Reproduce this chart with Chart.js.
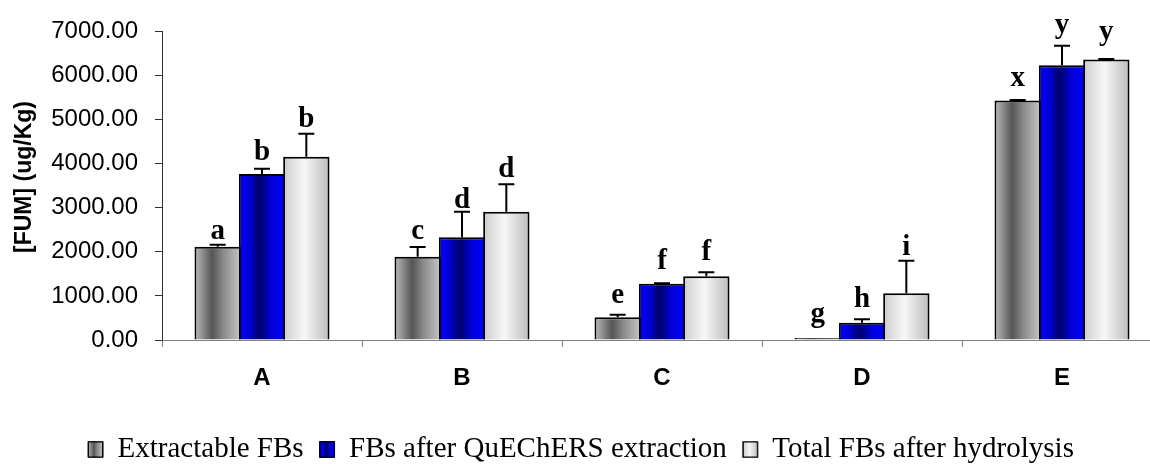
<!DOCTYPE html>
<html>
<head>
<meta charset="utf-8">
<script src="https://cdn.jsdelivr.net/npm/chart.js"></script>
<style>
html, body { margin: 0; padding: 0; overflow: hidden; background: #ffffff; }
#wrap { width: 1180px; height: 464px; position: relative; }
</style>
</head>
<body>
<div id="wrap"><canvas id="c"></canvas></div>
<script>
// ---- data ----
const categories = ['A', 'B', 'C', 'D', 'E'];
const seriesNames = ['Extractable FBs', 'FBs after QuEChERS extraction', 'Total FBs after hydrolysis'];
const extractable = [2115, 1891, 518, 45, 5432];
const quechers = [3766, 2333, 1275, 390, 6234];
const totalHydrolysis = [4157, 2911, 1448, 1058, 6362];
const extractableErr = [45, 217, 52, 0, 10];
const quechersErr = [121, 578, 15, 83, 443];
const totalHydrolysisErr = [524, 622, 90, 742, 10];
const extractableLetters = ['a', 'c', 'e', 'g', 'x'];
const quechersLetters = ['b', 'd', 'f', 'h', 'y'];
const totalHydrolysisLetters = ['b', 'd', 'f', 'i', 'y'];
const yTickLabels = ['0.00', '1000.00', '2000.00', '3000.00', '4000.00', '5000.00', '6000.00', '7000.00'];
const yAxisTitle = '[FUM] (ug/Kg)';

const seriesValues = [extractable, quechers, totalHydrolysis];
const seriesErrors = [extractableErr, quechersErr, totalHydrolysisErr];
const seriesLetters = [extractableLetters, quechersLetters, totalHydrolysisLetters];

// ---- styles ----
const gradientStops = [
  [[0, '#bdbdbd'], [0.38, '#555555'], [0.62, '#8a8a8a'], [1, '#c6c6c6']],
  [[0, '#0000f5'], [0.2, '#0000e0'], [0.45, '#00006a'], [0.7, '#0000d8'], [1, '#0000ff']],
  [[0, '#cbcbcb'], [0.45, '#f7f7f7'], [1, '#bcbcbc']]
];
// pixel gap between error-bar top and letter baseline (hand-placed labels in the original)
const letterGapPx = [
  [6, 8, 12, 16, 14],
  [9, 4, 14, 12, 13],
  [7, 7, 12, 6, 19]
];
const solidColors = ['#888888', '#0000c0', '#e6e6e6'];
const CAT_PCT = 0.665;
const BAR_PCT = 1.045;
const LEGEND_FONT = 29;
const LEGEND_BOX_W = 15;
const LEGEND_BOX_H = 16;
const LEGEND_SHIFT = 19;

Chart.defaults.font.family = "'Liberation Sans', Arial, sans-serif";
Chart.defaults.color = '#000000';

function makeGradient(c, x0, x1, stops) {
  const g = c.createLinearGradient(x0, 0, x1, 0);
  stops.forEach(s => g.addColorStop(s[0], s[1]));
  return g;
}

function barFill(ctx) {
  const chart = ctx.chart;
  const ds = ctx.datasetIndex;
  const xs = chart.scales && chart.scales.x;
  if (!xs || !chart.chartArea || ctx.dataIndex === undefined) return solidColors[ds];
  const center = xs.getPixelForValue(ctx.dataIndex);
  const catW = xs.width / categories.length;
  const groupW = catW * CAT_PCT;
  const chunk = groupW / seriesNames.length;
  const bc = center - groupW / 2 + chunk * (ds + 0.5);
  const bw = chunk * BAR_PCT;
  return makeGradient(chart.ctx, bc - bw / 2, bc + bw / 2, gradientStops[ds]);
}

const decorPlugin = {
  id: 'decor',
  afterLayout(chart) {
    if (chart.legend) {
      chart.legend.top += LEGEND_SHIFT;
      chart.legend.bottom += LEGEND_SHIFT;
    }
  },
  afterDatasetsDraw(chart) {
    const c = chart.ctx;
    const ys = chart.scales.y;
    c.save();
    c.strokeStyle = '#000000';
    c.lineWidth = 2;
    for (let d = 0; d < seriesValues.length; d++) {
      const meta = chart.getDatasetMeta(d);
      meta.data.forEach((el, j) => {
        const x = el.x;
        const top = ys.getPixelForValue(seriesValues[d][j]);
        const errTop = ys.getPixelForValue(seriesValues[d][j] + seriesErrors[d][j]);
        if (seriesErrors[d][j] > 0) {
          c.beginPath();
          c.moveTo(x, top);
          c.lineTo(x, errTop);
          c.moveTo(x - 8, errTop);
          c.lineTo(x + 8, errTop);
          c.stroke();
        }
        c.fillStyle = '#000000';
        c.font = "bold 29px 'Liberation Serif', 'Times New Roman', serif";
        c.textAlign = 'center';
        c.textBaseline = 'alphabetic';
        c.fillText(seriesLetters[d][j], x, errTop - letterGapPx[d][j]);
      });
    }
    c.restore();
  },
  afterDraw(chart) {
    const c = chart.ctx;
    // y axis title
    c.save();
    c.translate(25, 177);
    c.rotate(-Math.PI / 2);
    c.font = "bold 23px 'Liberation Sans', Arial, sans-serif";
    c.fillStyle = '#000000';
    c.textAlign = 'center';
    c.textBaseline = 'middle';
    c.fillText(yAxisTitle, 0, 0);
    c.restore();
    // gradient legend boxes
    const lg = chart.legend;
    if (!lg || !lg.legendHitBoxes) return;
    const itemH = Math.max(LEGEND_FONT, LEGEND_BOX_H);
    c.save();
    lg.legendHitBoxes.forEach((hb, i) => {
      const x0 = hb.left;
      const y0 = hb.top + (itemH - LEGEND_BOX_H) / 2;
      c.fillStyle = makeGradient(c, x0, x0 + LEGEND_BOX_W, gradientStops[i]);
      c.fillRect(x0, y0, LEGEND_BOX_W, LEGEND_BOX_H);
      c.strokeStyle = '#000000';
      c.lineWidth = 1;
      c.strokeRect(x0 + 0.5, y0 + 0.5, LEGEND_BOX_W - 1, LEGEND_BOX_H - 1);
    });
    c.restore();
  }
};

new Chart(document.getElementById('c'), {
  type: 'bar',
  data: {
    labels: categories,
    datasets: seriesNames.map((name, i) => ({
      label: name,
      data: seriesValues[i],
      backgroundColor: barFill,
      borderColor: '#000000',
      borderWidth: 2,
      borderSkipped: 'start',
      categoryPercentage: CAT_PCT,
      barPercentage: BAR_PCT
    }))
  },
  options: {
    responsive: true,
    maintainAspectRatio: false,
    animation: false,
    devicePixelRatio: 1,
    layout: { padding: { left: 0, right: 18, top: 15, bottom: 9 } },
    plugins: {
      tooltip: { enabled: false },
      legend: {
        position: 'bottom',
        labels: {
          font: { family: "'Liberation Serif', 'Times New Roman', serif", size: LEGEND_FONT },
          color: '#000000',
          boxWidth: LEGEND_BOX_W,
          boxHeight: LEGEND_BOX_H,
          padding: 16,
          generateLabels: (chart) => chart.data.datasets.map((ds, i) => ({
            text: ds.label,
            fillStyle: solidColors[i],
            strokeStyle: '#000000',
            lineWidth: 1,
            hidden: false,
            datasetIndex: i,
            fontColor: '#000000'
          }))
        }
      }
    },
    scales: {
      x: {
        grid: { display: true, drawOnChartArea: false, drawTicks: true, tickLength: 7, color: '#808080', offset: true },
        border: { display: true, color: '#808080', width: 1 },
        ticks: { font: { size: 24, weight: 'bold' }, color: '#000000', padding: 17 },
        afterFit: (s) => { s.height = 60; }
      },
      y: {
        min: 0,
        max: 7000,
        ticks: {
          stepSize: 1000,
          font: { size: 24 },
          color: '#000000',
          padding: 17,
          callback: (v, i) => yTickLabels[i]
        },
        grid: { display: true, drawOnChartArea: false, drawTicks: true, tickLength: 7, color: '#303030' },
        border: { display: true, color: '#303030', width: 1 },
        title: { display: false },
        afterFit: (s) => { s.width = 162; }
      }
    }
  },
  plugins: [decorPlugin]
});
</script>
</body>
</html>
